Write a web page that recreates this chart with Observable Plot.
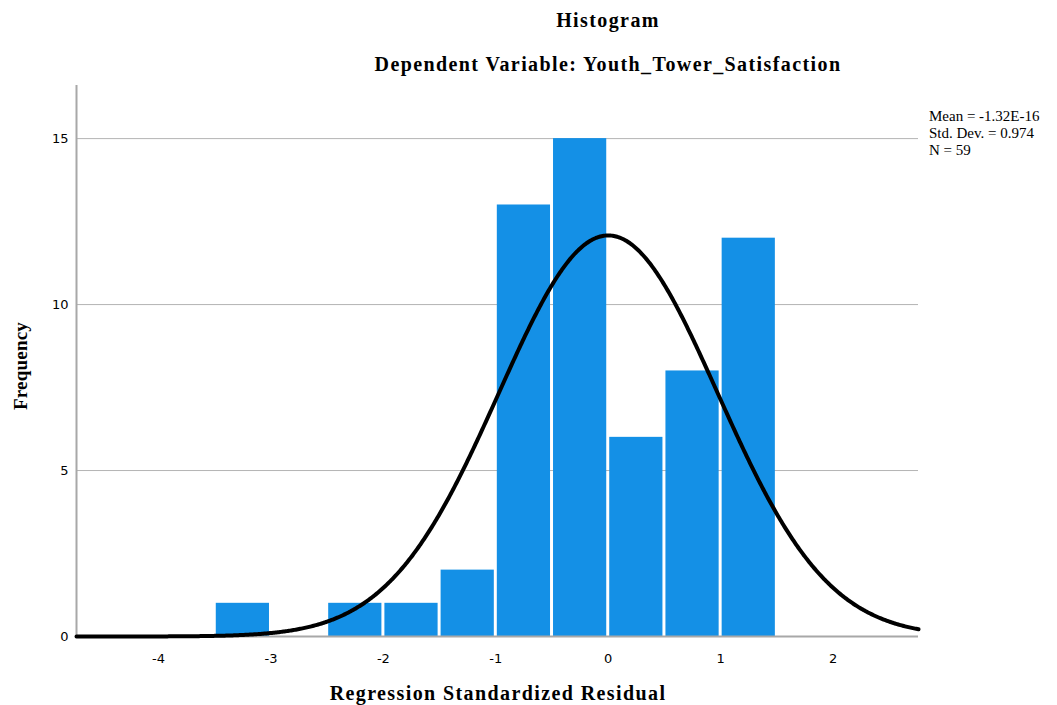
<!DOCTYPE html>
<html><head><meta charset="utf-8">
<script src="https://cdn.jsdelivr.net/npm/d3@7"></script>
<script src="https://cdn.jsdelivr.net/npm/@observablehq/plot@0.6"></script>
<style>
body{margin:0;background:#fff}
#wrap{position:relative;width:1057px;height:705px;overflow:hidden}
.t{position:absolute;font-family:"Liberation Serif",serif;font-weight:bold;color:#000;white-space:nowrap;line-height:1;font-size:20px;letter-spacing:1.4px}
.leg{position:absolute;left:929px;font-family:"Liberation Serif",serif;font-size:15px;line-height:17px;color:#000;white-space:nowrap}
</style>
</head><body>
<div id="wrap">
  <div id="chart"></div>
  <div class="t" style="left:608px;top:10px;transform:translateX(-50%)">Histogram</div>
  <div class="t" style="left:608px;top:54px;transform:translateX(-50%)">Dependent Variable: Youth_Tower_Satisfaction</div>
  <div class="t" style="left:498px;top:683px;transform:translateX(-50%)">Regression Standardized Residual</div>
  <div class="t" style="left:20px;top:366px;font-size:19px;letter-spacing:0.2px;transform:translate(-50%,-50%) rotate(-90deg)">Frequency</div>
  <div class="leg" id="legend" style="top:108px"></div>
</div>
<script>
// Histogram bins (bin width 0.5)
const binStart = [-3.5, -2.5, -2.0, -1.5, -1.0, -0.5, 0.0, 0.5, 1.0];
const binEnd   = [-3.0, -2.0, -1.5, -1.0, -0.5,  0.0, 0.5, 1.0, 1.5];
const counts   = [1, 1, 1, 2, 13, 15, 6, 8, 12];
// Summary statistics shown in the legend
const statLabels = ["Mean = -1.32E-16", "Std. Dev. = 0.974", "N = 59"];
const statMean = [-1.32e-16];
const statSD = [0.974];
const statN = [59];
const binWidth = [0.5];
// Axis ticks
const xTicks = [-4, -3, -2, -1, 0, 1, 2];
const yTicks = [0, 5, 10, 15];

const bars = binStart.map((s, i) => ({x1: s, x2: binEnd[i], y: counts[i]}));

// Fitted normal curve from the stated mean, SD and N
const xMin = -4.73, xMax = 2.76;
const curve = d3.range(xMin, xMax + 0.001, 0.01).map(x => ({
  x,
  y: statN[0] * binWidth[0] / (statSD[0] * Math.sqrt(2 * Math.PI)) *
     Math.exp(-0.5 * ((x - statMean[0]) / statSD[0]) ** 2)
}));

document.getElementById("legend").innerHTML = statLabels.join("<br>");

const chart = Plot.plot({
  width: 1057,
  height: 705,
  marginLeft: 76,
  marginRight: 139,
  marginTop: 85,
  marginBottom: 69,
  style: {fontFamily: "DejaVu Sans", fontSize: "13px", color: "#000", background: "#fff"},
  x: {domain: [xMin, xMax], ticks: xTicks, tickSize: 0, tickPadding: 17, tickFormat: d => String(d), label: null},
  y: {domain: [0, 16.6], ticks: yTicks, tickSize: 0, tickPadding: 8, tickFormat: d => String(d), label: null},
  marks: [
    Plot.ruleY(yTicks.filter(d => d > 0), {stroke: "#b4b4b4", strokeWidth: 1}),
    Plot.rectY(bars, {x1: "x1", x2: "x2", y: "y", fill: "#1490e6", insetLeft: 1.5, insetRight: 1.5}),
    Plot.ruleY([0], {stroke: "#a8a8a8", strokeWidth: 2}),
    Plot.ruleX([xMin], {stroke: "#a8a8a8", strokeWidth: 2}),
    Plot.line(curve, {x: "x", y: "y", stroke: "#000", strokeWidth: 4, curve: "linear"})
  ]
});
document.getElementById("chart").appendChild(chart);
</script>
</body></html>
